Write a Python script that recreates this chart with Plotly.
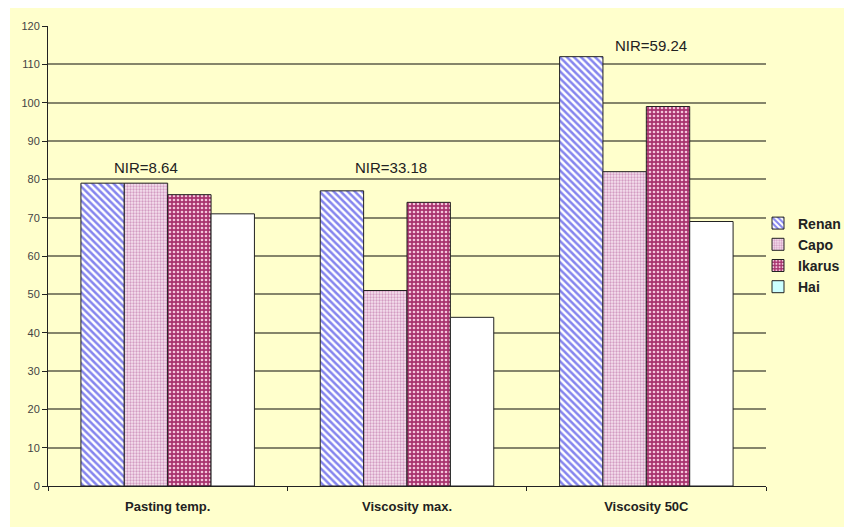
import plotly.graph_objects as go

# Data
categories = ["Pasting temp.", "Viscosity max.", "Viscosity 50C"]
renan = [79, 77, 112]
capo = [79, 51, 82]
ikarus = [76, 74, 99]
hai = [71, 44, 69]
nir_labels = ["NIR=8.64", "NIR=33.18", "NIR=59.24"]
nir_y = [83, 83, 115]
nir_shift = [-22, -16, 5]
y_ticks = list(range(0, 121, 10))

BG = "#FFFFCC"
EDGE = "#222222"
FONT = "Liberation Sans, Arial, sans-serif"

fig = go.Figure()

fig.add_trace(go.Bar(
    name="Renan", x=categories, y=renan, offsetgroup="1",
    marker=dict(color="#FFFFFF", line=dict(color=EDGE, width=1),
                pattern=dict(shape="\\", fgcolor="#8585EE", bgcolor="#FFFFFF",
                             size=5, solidity=0.5, fillmode="replace")),
))
fig.add_trace(go.Bar(
    name="Capo", x=categories, y=capo, offsetgroup="2",
    marker=dict(color="#F4DCEC", line=dict(color=EDGE, width=1),
                pattern=dict(shape=".", fgcolor="#D39CC2", bgcolor="#F6E2EF",
                             size=3, solidity=0.45, fillmode="replace")),
))
fig.add_trace(go.Bar(
    name="Ikarus", x=categories, y=ikarus, offsetgroup="3",
    marker=dict(color="#A8336E", line=dict(color=EDGE, width=1),
                pattern=dict(shape=".", fgcolor="#F3C4DA", bgcolor="#A8336E",
                             size=4, solidity=0.35, fillmode="replace")),
))
fig.add_trace(go.Bar(
    name="Hai", x=categories, y=hai, offsetgroup="4", showlegend=False,
    marker=dict(color="#FFFFFF", line=dict(color=EDGE, width=1)),
))
# legend entry for Hai (light cyan swatch)
fig.add_trace(go.Bar(
    name="Hai", x=[categories[0]], y=[None], offsetgroup="4",
    marker=dict(color="#CCFFFF", line=dict(color=EDGE, width=1)),
))

for cat, txt, yv, sh in zip(categories, nir_labels, nir_y, nir_shift):
    fig.add_annotation(x=cat, y=yv, text=txt, showarrow=False, xshift=sh,
                       font=dict(size=15, color="#222222", family=FONT))

# white margin strips around the chart area
fig.add_shape(type="rect", xref="paper", yref="paper",
              x0=-0.2, x1=1.2, y0=(486 - 8) / 460, y1=1.2,
              fillcolor="#FFFFFF", line_width=0, layer="above")
fig.add_shape(type="rect", xref="paper", yref="paper",
              x0=-0.2, x1=(10 - 48) / 718, y0=-0.2, y1=1.2,
              fillcolor="#FFFFFF", line_width=0, layer="above")

fig.update_layout(
    width=844, height=527,
    margin=dict(l=48, r=78, t=26, b=41, autoexpand=False),
    paper_bgcolor=BG, plot_bgcolor=BG,
    barmode="group", bargap=0.275, bargroupgap=0,
    font=dict(family=FONT, color="#222222"),
    legend=dict(x=(758 - 48) / 718, y=(486 - 255) / 460, xanchor="left", yanchor="middle",
                bgcolor="rgba(0,0,0,0)", tracegroupgap=0, itemwidth=30,
                font=dict(size=14, color="#222222", family=FONT)),
    showlegend=True,
)
fig.update_xaxes(
    showgrid=False, showline=True, linecolor="#222222", linewidth=1,
    ticks="outside", tickson="boundaries", ticklen=4, tickcolor="#222222",
    tickfont=dict(size=13, color="#222222", family=FONT),
    ticklabelstandoff=8,
    tickprefix="<b>", ticksuffix="</b>",
)
fig.update_yaxes(
    range=[0, 120], tickvals=y_ticks, showgrid=True, gridcolor="#85856A", gridwidth=1.5,
    showline=True, linecolor="#222222", linewidth=1,
    ticks="outside", ticklen=5, tickcolor="#222222",
    tickfont=dict(size=11, color="#444444", family=FONT), zeroline=False,
)

# bold legend labels
fig.for_each_trace(lambda t: t.update(name=f"<b>{t.name}</b>"))

fig.write_html("out.html")
